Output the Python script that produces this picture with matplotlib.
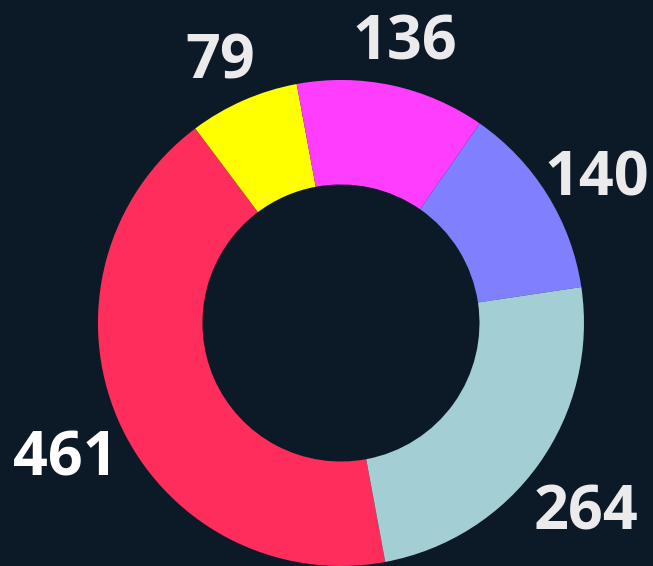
import matplotlib.pyplot as plt

# values read clockwise, starting at the red slice
values = [461, 79, 136, 140, 264]
labels = ['461', '79', '136', '140', '264']
colors = ['#ff2d5b', '#ffff00', '#ff3dff', '#8080ff', '#a3ced4']
label_colors = ['#ffffff', '#ebebeb', '#ebebeb', '#ebebeb', '#ebebeb']

bg = '#0c1927'

fig = plt.figure(figsize=(6.53, 5.66), dpi=100)
fig.patch.set_facecolor(bg)
ax = fig.add_axes([0, 0, 1, 1])
ax.set_facecolor(bg)

wedges, texts = ax.pie(values, labels=labels, colors=colors, counterclock=False,
                       startangle=-79.5, radius=1.0, labeldistance=1.24,
                       wedgeprops=dict(width=0.43, linewidth=0),
                       textprops=dict(fontsize=44, fontweight='bold', family='Open Sans'))
for t, c in zip(texts, label_colors):
    t.set_ha('center')
    t.set_va('center')
    t.set_color(c)
    # Open Sans "center" leaves room for descenders, nudge digits down
    x, y = t.get_position()
    t.set_position((x, y - 0.066))

ax.set_xlim(-1.403, 1.284)
ax.set_ylim(-1.0, 1.329)
ax.set_aspect('auto')
ax.axis('off')

fig.savefig('out.png', dpi=100, facecolor=bg)
